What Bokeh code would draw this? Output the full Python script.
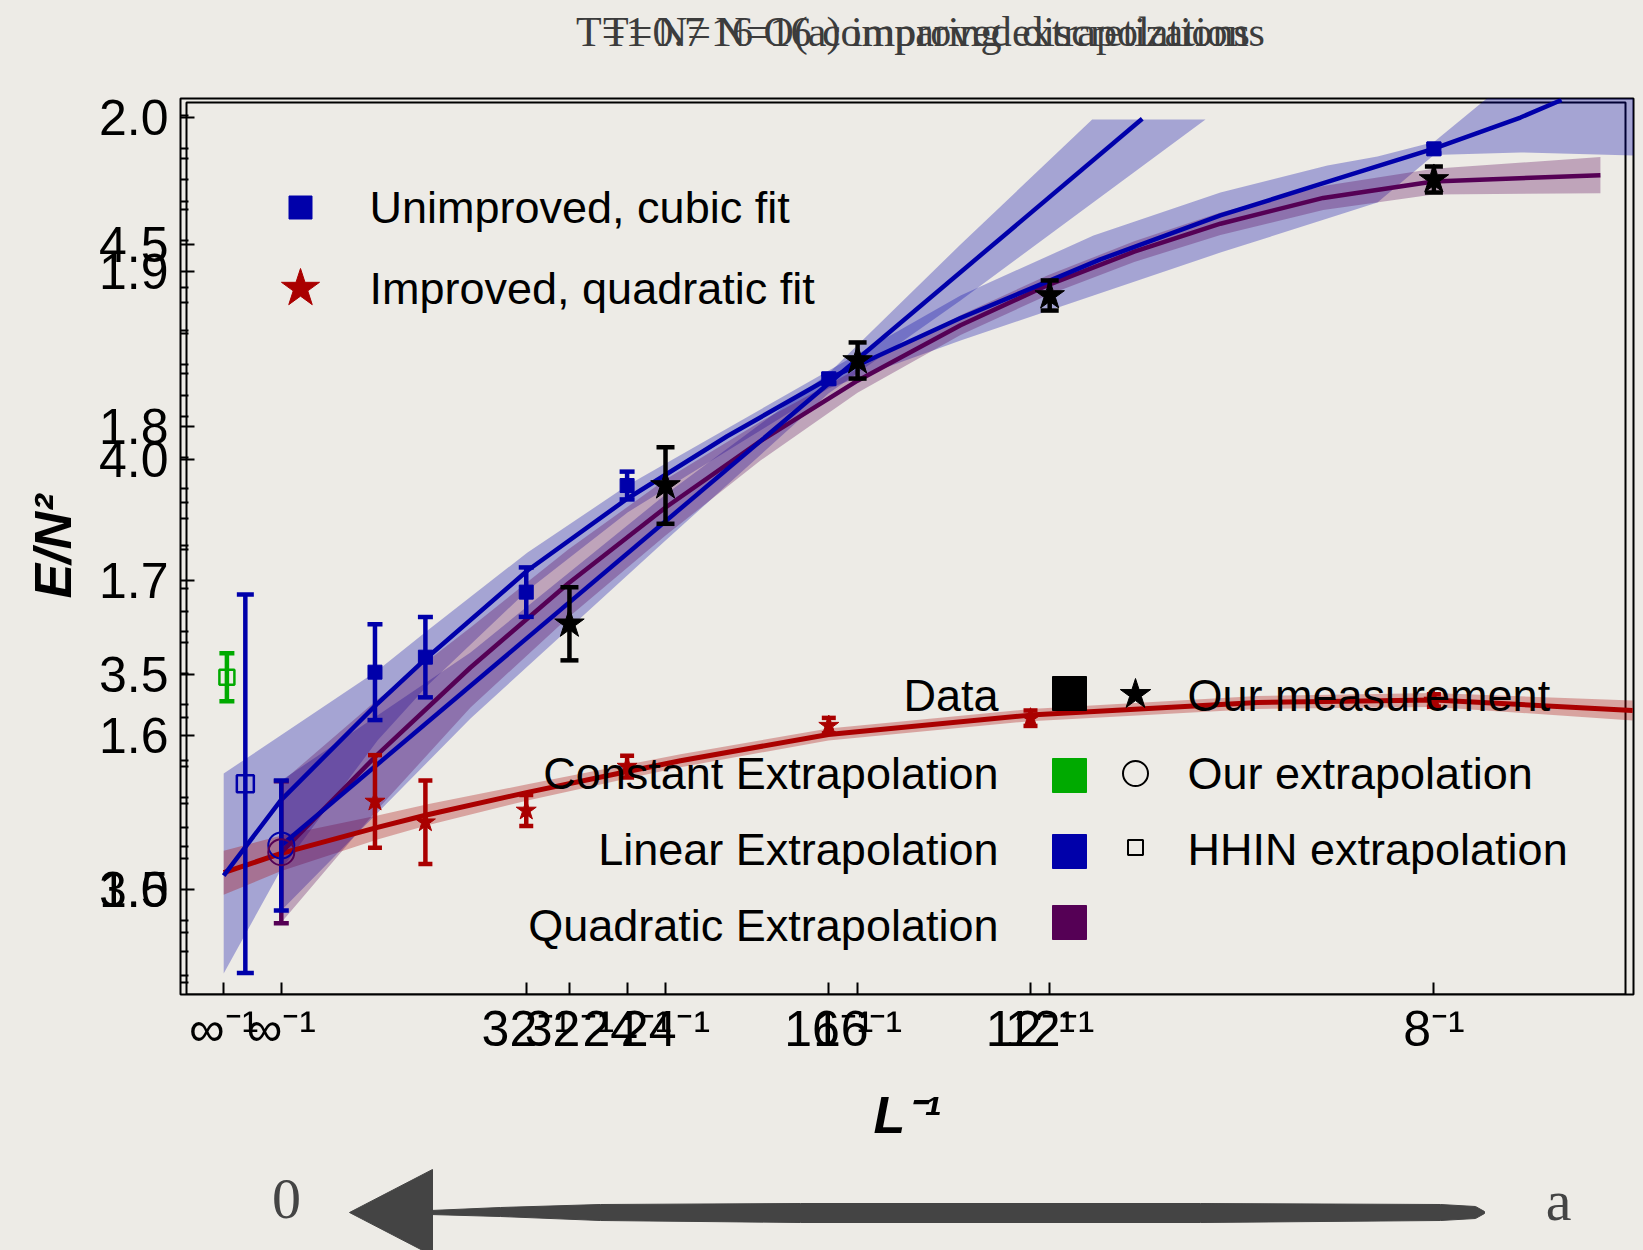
import numpy as np
from bokeh.plotting import figure
from bokeh.models import Range1d, FixedTicker, CustomJSTickFormatter, Label
from bokeh.layouts import column
from bokeh.embed import file_html
from bokeh.resources import INLINE

# ---------------- data : plot A  (E/N^2 against 1/L) ----------------
unimp_L = [64, 48, 32, 24, 16, 8]
unimp_E = [1.6408, 1.6505, 1.6926, 1.7616, 1.8307, 1.9795]
unimp_err = [0.031, 0.026, 0.016, 0.009, 0.003, 0.003]

imp_L = [64, 48, 32, 24, 16, 12, 8]
imp_E = [1.5571, 1.5437, 1.5513, 1.5797, 1.6062, 1.6110, 1.6225]
imp_err = [0.030, 0.027, 0.010, 0.007, 0.005, 0.005, 0.004]

cubic_x = [0.0, 0.00587, 0.01589, 0.02105, 0.03138, 0.04171, 0.0520, 0.0625, 0.07611,
           0.09056, 0.10295, 0.11638, 0.125, 0.13394, 0.13818]
cubic_E = [1.5091, 1.5577, 1.6205, 1.6505, 1.7066, 1.7532, 1.7935, 1.8309, 1.8700,
           1.9080, 1.9364, 1.9628, 1.9797, 1.9998, 2.0111]
cubic_band_x = [0.0, 0.00587, 0.01589, 0.02105, 0.03138, 0.04171, 0.0625, 0.07611,
                0.08984, 0.10295, 0.11400, 0.11917, 0.125, 0.13394, 0.14562]
cubic_band_hi = [1.5752, 1.5998, 1.6419, 1.6678, 1.7183, 1.7617, 1.8361, 1.8846,
                 1.9234, 1.9513, 1.9687, 1.9746, 1.9840, 2.0300, 2.0700]
cubic_band_lo = [1.4458, 1.5124, 1.5966, 1.6322, 1.6937, 1.7442, 1.8245, 1.8555,
                 1.8846, 1.9124, 1.9344, 1.9448, 1.9755, 1.9772, 1.9752]

quad_x = [0.0, 0.00587, 0.01589, 0.02105, 0.03138, 0.04171, 0.04718, 0.06247,
          0.08333, 0.10677, 0.125, 0.14553]
quad_E = [1.5110, 1.5234, 1.5403, 1.5485, 1.5630, 1.5765, 1.5835, 1.6005,
          1.6130, 1.6212, 1.6228, 1.6160]
quad_hw = [0.0142, 0.0115, 0.0078, 0.0068, 0.0052, 0.0045, 0.0042, 0.0039,
           0.0039, 0.0042, 0.0045, 0.0065]

# ---------------- data : plot B ----------------
meas_L = [32, 24, 16, 12, 8]
meas_T = [3.6186, 3.9402, 4.2309, 4.3821, 4.6519]
meas_err = [0.085, 0.089, 0.042, 0.035, 0.030]

ourext_x = [0.0, 0.0]
ourext_T = [3.1030, 3.0874]          # linear, quadratic
ourext_err = [0.151, 0.165]

hhin_x = [-0.0059, -0.0039]
hhin_T = [3.4944, 3.2465]            # constant, linear
hhin_err = [0.056, 0.44]

linext_x = [0.0, 0.09337]
linext_T = [3.1030, 4.7930]
linband_up_x = [0.0, 0.02052, 0.04167, 0.05934, 0.07366, 0.08794]
linband_up_T = [3.2542, 3.5519, 3.9193, 4.2007, 4.5007, 4.7914]
linband_lo_x = [0.0, 0.02052, 0.04167, 0.05934, 0.07366, 0.10023]
linband_lo_T = [2.9519, 3.3984, 3.8123, 4.1542, 4.3705, 4.7914]

qext_x = [0.0, 0.0104, 0.02052, 0.03115, 0.04167, 0.05200, 0.06249, 0.07366, 0.08320,
          0.09250, 0.10185, 0.11300, 0.12495, 0.14306]
qext_T = [3.087, 3.314, 3.517, 3.713, 3.889, 4.044, 4.184, 4.313, 4.407,
          4.484, 4.549, 4.609, 4.647, 4.662]
qext_hw = [0.163, 0.128, 0.093, 0.079, 0.065, 0.045, 0.028, 0.023, 0.023,
           0.024, 0.026, 0.028, 0.030, 0.042]

# ---------------- ticks ----------------
xA_ticks = [0.0, 1 / 32, 1 / 24, 1 / 16, 1 / 12, 1 / 8]
xA_labels = ["∞⁻¹", "32⁻¹", "24⁻¹", "16⁻¹", "12⁻¹", "8⁻¹"]
xB_ticks = [0.0, 1 / 32, 1 / 24, 1 / 16, 1 / 12]
xB_labels = ["∞⁻¹", "32⁻¹", "24⁻¹", "16⁻¹", "12⁻¹"]
yA_major = [1.5, 1.6, 1.7, 1.8, 1.9, 2.0]
yA_labels = ["1.5", "1.6", "1.7", "1.8", "1.9", "2.0"]
yB_major = [3.0, 3.5, 4.0, 4.5]
yB_labels = ["3.0", "3.5", "4.0", "4.5"]

titles = ["T=1 N=16 O(a) improved discretizations", "T=0.7 N=16 comparing extrapolations"]

# ---------------- pixel calibration of the two overlaid panels ----------------
def a_x(px): return (px - 223.2) / 9681.6
def a_y(py): return 2.0 - (py - 116.7) / 1545.0
def b_x(px): return (px - 280.8) / 9220.8
def b_y(py): return 4.5 - (py - 244.3) / 430.0
def bx_to_ax(xb): return a_x(280.8 + 9220.8 * xb)
def by_to_ay(yb): return a_y(244.3 + (4.5 - yb) * 430.0)

BLUE, RED, PURPLE, GREEN = "#0000aa", "#aa0000", "#550055", "#00aa00"
SANS, SERIF = "Liberation Sans", "Liberation Serif"
BG = "#edebe6"

L_left, L_right, L_top, L_bot = 180, 1633, 98, 994
H0, H2 = 90, 90
H1 = 1250 - H0 - H2          # main panel spans page y 90..1160


def strip(h):
    f = figure(width=1643, height=h, output_backend="svg", toolbar_location=None,
               x_range=Range1d(L_left, L_right), y_range=Range1d(0, h),
               x_axis_type=None, y_axis_type=None,
               min_border_left=L_left, min_border_right=1643 - L_right,
               min_border_top=0, min_border_bottom=0,
               styles={"background-color": BG})
    f.background_fill_color = BG
    f.border_fill_color = BG
    f.outline_line_color = None
    f.grid.visible = False
    return f


# ---------- title strip ----------
p0 = strip(H0)
for txt, dx in zip(titles, (0, 6)):
    p0.add_layout(Label(x=920 + dx, y=H0 - 31, text=txt, text_font=SERIF, text_font_size="42px",
                        text_align="center", text_baseline="middle", text_color="#3c3c3c"))

# ---------- main panel ----------
p = figure(width=1643, height=H1, output_backend="svg", toolbar_location=None,
           x_range=Range1d(a_x(L_left), a_x(L_right)),
           y_range=Range1d(a_y(L_bot), a_y(L_top)),
           min_border_left=L_left, min_border_right=1643 - L_right,
           min_border_top=L_top - H0, min_border_bottom=H0 + H1 - L_bot,
           styles={"background-color": BG})
p.extra_x_ranges = {"xb": Range1d(b_x(L_left), b_x(L_right))}
p.extra_y_ranges = {"yb": Range1d(b_y(L_bot), b_y(L_top))}
p.background_fill_color = BG
p.border_fill_color = BG
p.outline_line_color = "black"
p.outline_line_width = 2
p.grid.visible = False

yticks = yA_major + [by_to_ay(v) for v in yB_major]
ylabs = yA_labels + yB_labels
yminA = [round(1.44 + 0.02 * i, 2) for i in range(29)]
yminA = [v for v in yminA if all(abs(v - m) > 1e-6 for m in yA_major)]
yminB = [round(2.8 + 0.1 * i, 1) for i in range(21)]
yminB = [v for v in yminB if all(abs(v - m) > 1e-6 for m in yB_major)]
yminor = yminA + [by_to_ay(v) for v in yminB]
xticks = xA_ticks + [bx_to_ax(v) for v in xB_ticks]
xlabs = xA_labels + xB_labels

JS = """
let best = 0; let bd = Infinity;
for (let i = 0; i < vals.length; i++) {
  const d = Math.abs(vals[i] - tick);
  if (d < bd) { bd = d; best = i; }
}
return labs[best];
"""
yax = p.yaxis[0]
yax.ticker = FixedTicker(ticks=yticks, minor_ticks=yminor)
yax.formatter = CustomJSTickFormatter(args=dict(vals=yticks, labs=ylabs), code=JS)
xax = p.xaxis[0]
xax.ticker = FixedTicker(ticks=xticks, minor_ticks=[])
xax.formatter = CustomJSTickFormatter(args=dict(vals=xticks, labs=xlabs), code=JS)
for ax in (xax, yax):
    ax.axis_line_color = None
    ax.major_tick_out = 0
    ax.minor_tick_out = 0
    ax.major_tick_line_width = 2
    ax.minor_tick_line_width = 2
    ax.major_label_text_font = SANS
    ax.major_label_text_font_size = "50px"
    ax.major_label_text_color = "black"
    ax.axis_label_text_font = SANS
    ax.axis_label_text_font_size = "52px"
    ax.axis_label_text_font_style = "bold italic"
    ax.axis_label_text_color = "black"
yax.major_tick_in = 14
yax.minor_tick_in = 8
yax.major_label_standoff = 12
yax.axis_label = "E/N²"
yax.axis_label_standoff = 14
xax.major_tick_in = 12
xax.major_label_standoff = 6
xax.axis_label = "L⁻¹"
xax.axis_label_standoff = 26

# second frame of the overlaid panel
p.quad(left=[a_x(186)], right=[a_x(1625)], top=[a_y(102)], bottom=[a_y(L_bot)],
       fill_color=None, line_color="black", line_width=2)

A = dict(x_range_name="default", y_range_name="default")
B = dict(x_range_name="xb", y_range_name="yb")

# ---------- bands ----------
p.varea(x=cubic_band_x, y1=cubic_band_lo, y2=cubic_band_hi, fill_color=BLUE, fill_alpha=0.3, **A)
p.varea(x=quad_x, y1=[y - h for y, h in zip(quad_E, quad_hw)],
        y2=[y + h for y, h in zip(quad_E, quad_hw)], fill_color=RED, fill_alpha=0.3, **A)
p.patch(x=linband_up_x + linband_lo_x[::-1], y=linband_up_T + linband_lo_T[::-1],
        fill_color=BLUE, fill_alpha=0.3, line_color=None, **B)
p.varea(x=qext_x, y1=[y - h for y, h in zip(qext_T, qext_hw)],
        y2=[y + h for y, h in zip(qext_T, qext_hw)], fill_color=PURPLE, fill_alpha=0.3, **B)

# ---------- fit lines ----------
p.line(quad_x, quad_E, line_color=RED, line_width=5, line_join="round", **A)
p.line(qext_x, qext_T, line_color=PURPLE, line_width=4.5, line_join="round", **B)
p.line(linext_x, linext_T, line_color=BLUE, line_width=4.5, **B)
p.line(cubic_x, cubic_E, line_color=BLUE, line_width=4.5, line_join="round", **A)


def errbars(xs, ys, es, color, cap, lw, rng):
    lo = [y - e for y, e in zip(ys, es)]
    hi = [y + e for y, e in zip(ys, es)]
    p.segment(xs, lo, xs, hi, line_color=color, line_width=lw, **rng)
    p.scatter(list(xs) + list(xs), lo + hi, marker="dash", size=cap,
              line_color=color, line_width=lw, **rng)


# ---------- plot A points ----------
ux = [1 / L for L in unimp_L]
ix = [1 / L for L in imp_L]
errbars(ix, imp_E, imp_err, RED, 14, 4.5, A)
p.scatter(ix, imp_E, marker="star", size=21, fill_color=RED, line_color=RED, **A)
errbars(ux, unimp_E, unimp_err, BLUE, 15, 4.5, A)
p.scatter(ux, unimp_E, marker="square", size=14, fill_color=BLUE, line_color=BLUE, **A)

# ---------- plot B points ----------
mx = [1 / L for L in meas_L]
errbars(mx, meas_T, meas_err, "black", 18, 4.5, B)
p.scatter(mx, meas_T, marker="star", size=31, fill_color="black", line_color="black", **B)
errbars(ourext_x[1:], ourext_T[1:], ourext_err[1:], PURPLE, 15, 4.5, B)
errbars(ourext_x[:1], ourext_T[:1], ourext_err[:1], BLUE, 15, 4.5, B)
p.scatter(ourext_x, ourext_T, marker="circle", size=26, fill_color=None,
          line_color=[BLUE, PURPLE], line_width=2, **B)
errbars(hhin_x[:1], hhin_T[:1], hhin_err[:1], GREEN, 15, 4.5, B)
errbars(hhin_x[1:], hhin_T[1:], hhin_err[1:], BLUE, 17, 4.5, B)
p.scatter(hhin_x, hhin_T, marker="square", size=[15, 17], fill_color=None,
          line_color=[GREEN, BLUE], line_width=2.5, **B)

# ---------- legend of plot A ----------
p.scatter([a_x(300)], [a_y(207)], marker="square", size=23, fill_color=BLUE, line_color=BLUE)
p.scatter([a_x(300)], [a_y(288)], marker="star", size=40, fill_color=RED, line_color=RED)
for txt, py in (("Unimproved, cubic fit", 207), ("Improved, quadratic fit", 288)):
    p.add_layout(Label(x=a_x(369), y=a_y(py), text=txt, text_font=SANS, text_font_size="45px",
                       text_align="left", text_baseline="middle", text_color="black"))

# ---------- legend of plot B ----------
legB_names = ["Data", "Constant Extrapolation", "Linear Extrapolation", "Quadratic Extrapolation"]
legB_colors = ["black", GREEN, BLUE, PURPLE]
legB_rows = [695, 773, 849, 925]
legB_sw = [693, 775, 851, 922]
p.scatter([a_x(1069)] * 4, [a_y(v) for v in legB_sw], marker="square", size=34,
          fill_color=legB_colors, line_color=legB_colors)
for txt, py in zip(legB_names, legB_rows):
    p.add_layout(Label(x=a_x(998), y=a_y(py), text=txt, text_font=SANS, text_font_size="45px",
                       text_align="right", text_baseline="middle", text_color="black"))
legB_marks = ["Our measurement", "Our extrapolation", "HHIN extrapolation"]
p.scatter([a_x(1135)], [a_y(694)], marker="star", size=32, fill_color="black", line_color="black")
p.scatter([a_x(1135)], [a_y(773)], marker="circle", size=25, fill_color=None, line_color="black", line_width=2)
p.scatter([a_x(1135)], [a_y(847)], marker="square", size=15, fill_color=None, line_color="black", line_width=2)
for txt, py in zip(legB_marks, legB_rows[:3]):
    p.add_layout(Label(x=a_x(1187), y=a_y(py), text=txt, text_font=SANS, text_font_size="45px",
                       text_align="left", text_baseline="middle", text_color="black"))

# ---------- bottom arrow strip ----------
p2 = strip(H2)
p2.patch([349, 432, 432], [38, 81, -5], fill_color="#444444", line_color="#444444")
shaft_x = [430, 500, 600, 800, 1200, 1440, 1475, 1484, 1484, 1475, 1440, 1200, 800, 600, 500, 430]
shaft_y = [40, 43, 46, 47, 47, 46, 44, 39, 37, 32, 30, 28, 28, 30, 34, 36]
p2.patch(shaft_x, shaft_y, fill_color="#444444", line_color="#444444")
p2.add_layout(Label(x=286, y=52, text="0", text_font=SERIF, text_font_size="58px",
                    text_align="center", text_baseline="middle", text_color="#444444"))
p2.add_layout(Label(x=1558, y=50, text="a", text_font=SERIF, text_font_size="58px",
                    text_align="center", text_baseline="middle", text_color="#444444"))

layout = column(p0, p, p2, spacing=0, styles={"background-color": BG})
open("out.html", "w").write(file_html(layout, INLINE))
